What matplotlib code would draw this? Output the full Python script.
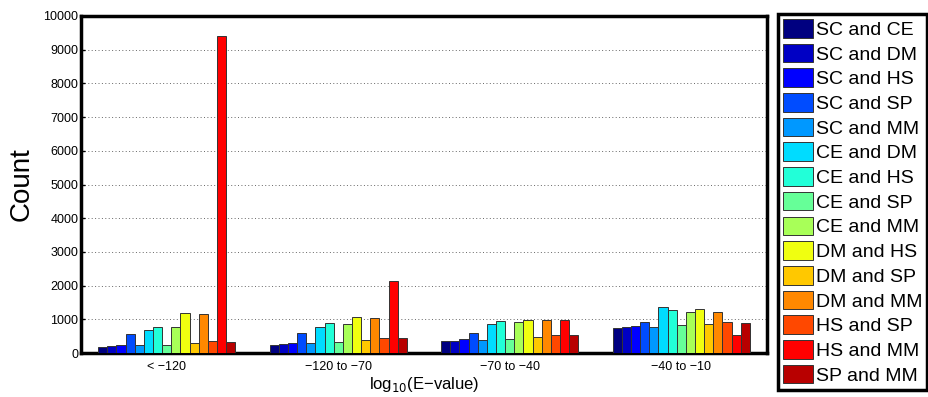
import numpy as np
import matplotlib.pyplot as plt

plt.rcParams['font.family'] = ['Liberation Sans', 'DejaVu Sans']

ranges = ['< \u2212120', '\u2212120 to \u221270', '\u221270 to \u221240', '\u221240 to \u221210']
pairs = ['SC and CE', 'SC and DM', 'SC and HS', 'SC and SP', 'SC and MM',
         'CE and DM', 'CE and HS', 'CE and SP', 'CE and MM', 'DM and HS',
         'DM and SP', 'DM and MM', 'HS and SP', 'HS and MM', 'SP and MM']

# counts per species pair, one list per E-value range
counts_lt120 = [190, 210, 250, 570, 250, 690, 780, 250, 770, 1200, 290, 1150, 360, 9400, 340]
counts_120_70 = [250, 280, 310, 600, 310, 780, 890, 340, 850, 1080, 400, 1040, 440, 2130, 440]
counts_70_40 = [370, 360, 420, 580, 380, 870, 950, 430, 920, 990, 470, 970, 530, 990, 520]
counts_40_10 = [750, 770, 810, 930, 770, 1370, 1280, 830, 1230, 1310, 870, 1230, 920, 540, 890]

data = np.array([counts_lt120, counts_120_70, counts_70_40, counts_40_10])

# jet-style palette, one colour per pair
colors = ['#000080', '#0000c4', '#0000ff', '#004cff', '#0098ff',
          '#00dcff', '#22ffd8', '#66ff98', '#a8ff58', '#f0ff10',
          '#ffc800', '#ff8800', '#ff4800', '#ff0000', '#b80000']

fig = plt.figure(figsize=(9.29, 3.97), dpi=100)
ax = fig.add_axes([0.0872, 0.1108, 0.7384, 0.8489])

n = len(pairs)
x = np.arange(1, len(ranges) + 1)
w = 0.8 / n
for i in range(n):
    ax.bar(x - 0.4 + w * (i + 0.5), data[:, i], width=w, color=colors[i],
           edgecolor='0.2', linewidth=0.7, label=pairs[i], zorder=3)

ax.set_xlim(0.5, 4.5)
ax.set_ylim(0, 10000)
ax.set_yticks(np.arange(0, 10001, 1000))
ax.set_xticks(x)
ax.set_xticklabels(ranges)
ax.tick_params(axis='both', direction='in', labelsize=9, length=3, width=1, pad=2)
ax.tick_params(axis='x', length=0, pad=6)
ax.grid(axis='y', linestyle=(0, (1, 2.5)), color='0.4', linewidth=0.7)
for s in ax.spines.values():
    s.set_linewidth(2.5)

ax.set_ylabel('Count', fontsize=20, labelpad=6)
ax.set_xlabel('log$_{10}$(E\u2212value)', fontsize=12, labelpad=1)

leg = fig.legend(loc='upper left', bbox_to_anchor=(778 / 929, 1 - 14 / 397),
                 fontsize=14, frameon=True, fancybox=False,
                 handlelength=1.55, handleheight=1.1, handletextpad=0.15,
                 labelspacing=0.245, borderpad=0.25, borderaxespad=0)
frame = leg.get_frame()
frame.set_linewidth(2.5)
frame.set_edgecolor('black')
frame.set_alpha(1)

fig.savefig('out.png', dpi=100)
